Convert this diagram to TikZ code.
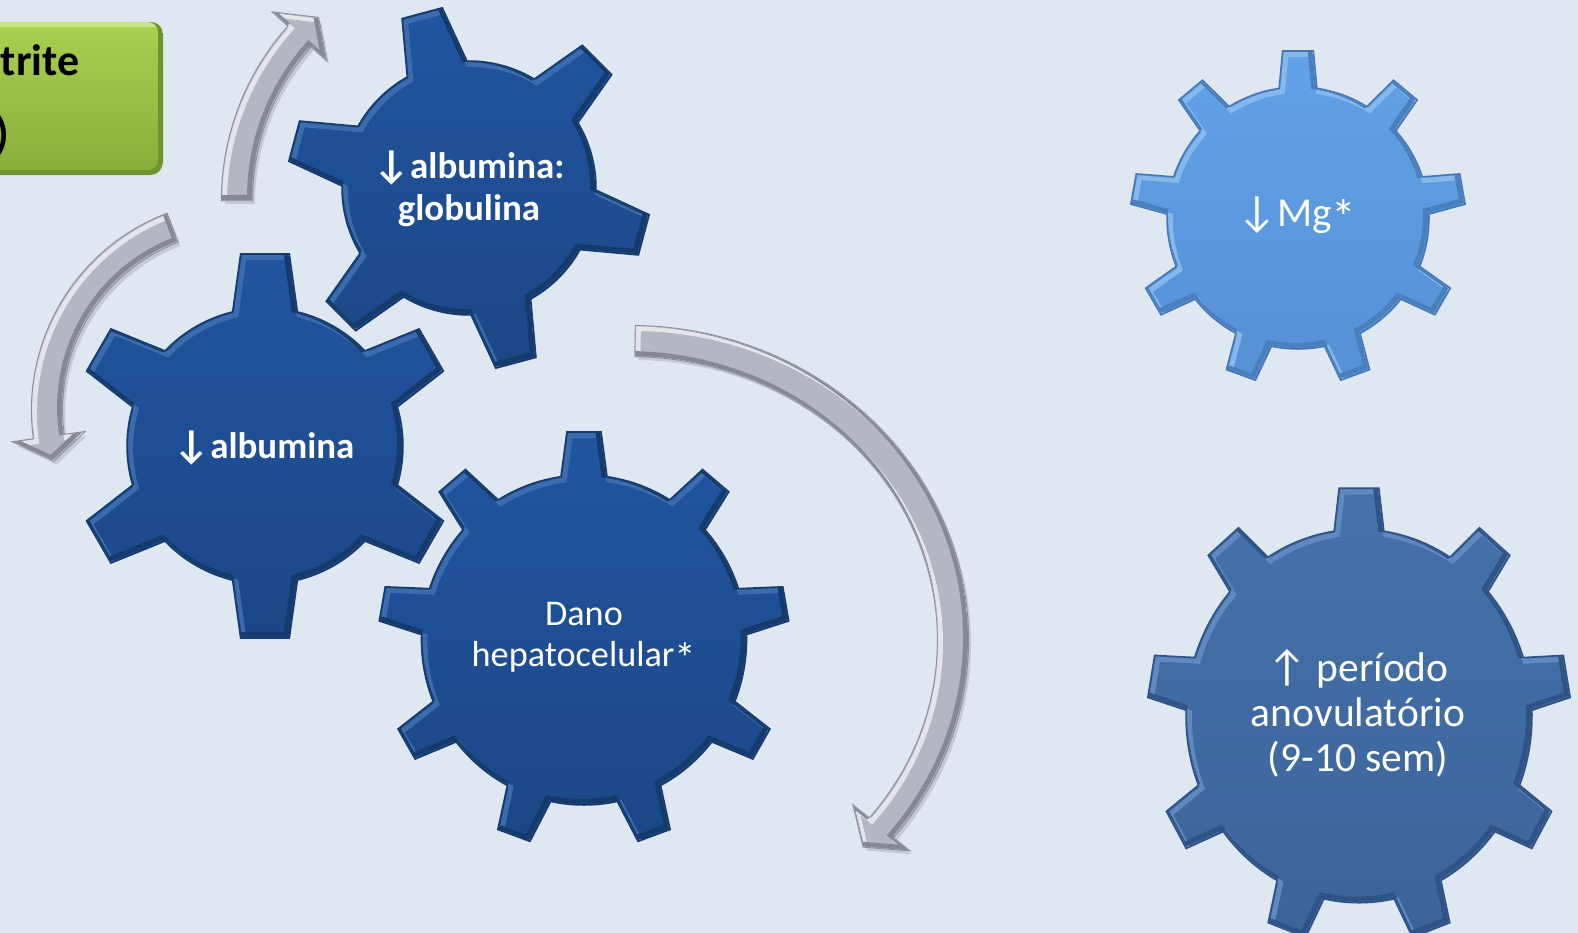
\documentclass[tikz,border=0pt]{standalone}
\usepackage{graphicx}
\usepackage{fontspec}
\setmainfont{Carlito}
\newfontfamily\arrowfont{Carlito}
\usetikzlibrary{calc}
\definecolor{bgcol}{HTML}{DFE7F1}
\definecolor{dktop}{HTML}{2155A0}
\definecolor{dkbot}{HTML}{1B4786}
\definecolor{dkedge}{HTML}{163A6C}
\definecolor{dkhi}{HTML}{3A6CAE}
\definecolor{dklo}{HTML}{153A6C}
\definecolor{mgtop}{HTML}{62A2E6}
\definecolor{mgbot}{HTML}{5690D6}
\definecolor{mgedge}{HTML}{4777B3}
\definecolor{mghi}{HTML}{86B8EE}
\definecolor{mglo}{HTML}{4A7FBE}
\definecolor{petop}{HTML}{4572AB}
\definecolor{pebot}{HTML}{3B6499}
\definecolor{peedge}{HTML}{2F5284}
\definecolor{pehi}{HTML}{6089C0}
\definecolor{pelo}{HTML}{2F5385}
\definecolor{arfill}{HTML}{B3B7C2}
\definecolor{aredge}{HTML}{8B8F9B}
\definecolor{arhi}{HTML}{E3E5EB}
\definecolor{arlo}{HTML}{858994}
\definecolor{grtop}{HTML}{A9D04F}
\definecolor{grbot}{HTML}{88AE3B}
\definecolor{grhi}{HTML}{C6E482}
\definecolor{grlo}{HTML}{6F9330}

\newcommand\bigast{\raisebox{-0.2em}{\scalebox{1.2}{*}}}

% gear outline as one closed path:
% #1 body radius, #2 tip radius, #3 teeth, #4 start angle, #5 half width at body, #6 tip half width
\newcommand\gearpath[6]{({#4+asin(#5/#1)}:#1)
  foreach \k in {1,...,#3}{
    arc[start angle={#4+(\k-1)*360/#3+asin(#5/#1)}, end angle={#4+\k*360/#3-asin(#5/#1)}, radius=#1]
    -- ($({#4+\k*360/#3}:#2)+({#4+\k*360/#3-90}:#6)$)
    -- ($({#4+\k*360/#3}:#2)+({#4+\k*360/#3+90}:#6)$)
    -- ({#4+\k*360/#3+asin(#5/#1)}:#1)} -- cycle}

\newcommand\bevelfill[4]{%
  \path[#2] #1;
  \begin{scope}
    \clip #1;
    \draw[#3, line width=1.4pt, shift={(2.5,-2.5)}] #1;
    \draw[#4, line width=1.4pt, shift={(-2.5,2.5)}] #1;
  \end{scope}}

% #1 scope options (position, scaling), #2..#7 gear geometry, #8 colour prefix
\newcommand\drawgear[8]{%
  \begin{scope}[#1]
    \path[draw=#8edge, line width=1pt] \gearpath{#2}{#3}{#4}{#5}{#6}{#7};
    \bevelfill{\gearpath{#2}{#3}{#4}{#5}{#6}{#7}}{top color=#8top, bottom color=#8bot}{#8hi}{#8lo}
  \end{scope}}

\newcommand\arrowApath{(180:260) arc[start angle=180,end angle=138,radius=260] -- (138:280) -- (132:245) -- (138:210) -- (138:230) arc[start angle=138,end angle=180,radius=230] -- cycle}
\newcommand\arrowBpath{(111:210) arc[start angle=111,end angle=188,radius=210] -- (188:230) -- (195:195) -- (188:160) -- (188:180) arc[start angle=188,end angle=111,radius=180] -- cycle}
\newcommand\arrowCpath{(89:338 and 314) arc[start angle=89,end angle=-39,x radius=338,y radius=314] -- (-39:358 and 334) -- (-43.7:323 and 299) -- (-39:288 and 264) -- (-39:308 and 284) arc[start angle=-39,end angle=89,x radius=308,y radius=284] -- cycle}

\newcommand\drawarrow[3]{%
  \begin{scope}[shift={(#1,-#2)}]
    \fill[black, opacity=0.12, shift={(3,-4)}] #3;
    \path[draw=aredge, line width=0.6pt] #3;
    \bevelfill{#3}{fill=arfill}{arhi}{arlo}
  \end{scope}}

\tikzset{
  gtext/.style={text=white, align=center, inner sep=0pt},
  btext/.style={text=black, inner sep=0pt, font=\bfseries\fontsize{12.5}{15}\selectfont}
}

\begin{document}
\begin{tikzpicture}[x=0.01cm, y=0.01cm]
  \useasboundingbox (0,0) rectangle (1578,-933);
  \clip (0,0) rectangle (1578,-933);
  \fill[bgcol] (0,0) rectangle (1578,-933);

  % green box (partly outside the picture)
  \bevelfill{[rounded corners=3.5pt] (-40,-22) rectangle (163,-175)}{top color=grtop, bottom color=grbot}{grhi}{grlo}
  \node[btext, anchor=base east] (t1) at (80,-75) {trite};
  \node[btext, anchor=base east] (t2) at (10,-148) {)};

  % curved arrows
  \drawarrow{482}{200}{\arrowApath}
  \drawarrow{242}{410}{\arrowBpath}
  \drawarrow{630}{640}{\arrowCpath}

  % gears
  \drawgear{shift={(469,-188)}}{126}{180}{6}{45}{30}{20}{dk}
  \drawgear{shift={(265,-446)}}{137}{191}{6}{30}{31.5}{23.5}{dk}
  \drawgear{shift={(584,-640)}, xscale=0.985}{164}{207}{9}{50}{22.5}{16.5}{dk}
  \drawgear{shift={(1298,-218)}}{130}{166}{9}{50}{18}{14.5}{mg}
  \drawgear{shift={(1359,-716)}, yscale=1.08}{172}{210}{9}{50}{24}{19}{pe}

  % texts
  \node[gtext, font=\bfseries\fontsize{10.5}{11.8}\selectfont] (g1) at (469,-189)
    {{\arrowfont\fontsize{11.5}{11.8}\selectfont ↓}albumina:\\globulina};
  \node[gtext, font=\bfseries\fontsize{10.5}{11.8}\selectfont] (g2) at (264,-448)
    {{\arrowfont\fontsize{11.5}{11.8}\selectfont ↓}albumina};
  \node[gtext, font=\fontsize{10.3}{11.7}\selectfont] (g3) at (584,-638)
    {Dano\\hepatocelular\bigast};
  \node[gtext, font=\fontsize{11.7}{13}\selectfont] (g4) at (1297,-216)
    {{\arrowfont\fontsize{12.5}{13}\selectfont ↓}Mg\bigast};
  \node[gtext, font=\fontsize{11.8}{12.8}\selectfont] (g5) at (1358,-713)
    {{\arrowfont\fontsize{12.5}{12.8}\selectfont ↑} período\\anovulatório\\(9-10 sem)};
\end{tikzpicture}
\end{document}
